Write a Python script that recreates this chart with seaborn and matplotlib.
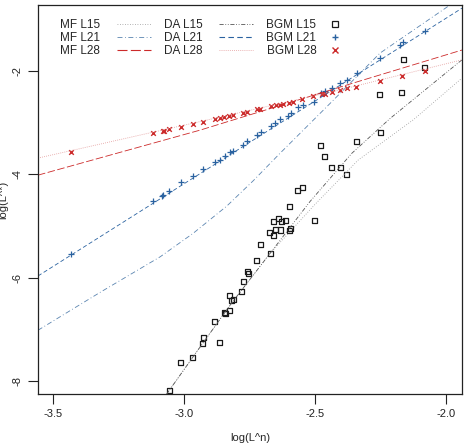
import numpy as np
import pandas as pd
import matplotlib
matplotlib.use("Agg")
import matplotlib.pyplot as plt
from matplotlib.lines import Line2D
from matplotlib.legend_handler import HandlerBase
import seaborn as sns

bgm15_x = [-3.057, -3.015, -2.968, -2.931, -2.927, -2.865, -2.884, -2.847, -2.842, -2.826,
           -2.828, -2.819, -2.813, -2.781, -2.772, -2.760, -2.756, -2.724, -2.670, -2.710,
           -2.673, -2.658, -2.651, -2.641, -2.658, -2.632, -2.628, -2.612, -2.599, -2.593,
           -2.597, -2.569, -2.547, -2.504, -2.480, -2.463, -2.437, -2.402, -2.379, -2.343,
           -2.251, -2.253, -2.172, -2.164, -2.084]
bgm15_y = [-8.190, -7.640, -7.544, -7.273, -7.157, -7.261, -6.847, -6.681, -6.687, -6.634,
           -6.352, -6.449, -6.422, -6.265, -6.074, -5.884, -5.926, -5.667, -5.532, -5.366,
           -5.126, -5.178, -5.062, -4.868, -4.921, -5.081, -4.907, -4.901, -5.087, -5.048,
           -4.623, -4.321, -4.263, -4.901, -3.437, -3.654, -3.868, -3.868, -4.004, -3.364,
           -3.191, -2.451, -2.416, -1.780, -1.942]

bgm21_x = [-3.432, -3.118, -3.086, -3.080, -3.057, -3.014, -2.968, -2.930, -2.883, -2.864,
           -2.845, -2.826, -2.815, -2.777, -2.760, -2.721, -2.708, -2.670, -2.654, -2.635,
           -2.603, -2.594, -2.565, -2.546, -2.505, -2.479, -2.463, -2.437, -2.405, -2.380,
           -2.342, -2.252, -2.177, -2.164, -2.081]
bgm21_y = [-5.545, -4.515, -4.424, -4.404, -4.321, -4.153, -4.037, -3.907, -3.760, -3.727,
           -3.644, -3.567, -3.547, -3.437, -3.354, -3.238, -3.191, -3.075, -3.006, -2.940,
           -2.870, -2.824, -2.708, -2.663, -2.600, -2.426, -2.387, -2.340, -2.244, -2.186,
           -2.039, -1.745, -1.503, -1.451, -1.232]

bgm28_x = [-3.432, -3.118, -3.082, -3.077, -3.057, -3.014, -2.968, -2.930, -2.883, -2.864,
           -2.849, -2.828, -2.815, -2.777, -2.760, -2.721, -2.711, -2.670, -2.650, -2.635,
           -2.624, -2.599, -2.584, -2.552, -2.509, -2.476, -2.463, -2.437, -2.406, -2.380,
           -2.343, -2.253, -2.170, -2.083]
bgm28_y = [-3.567, -3.199, -3.161, -3.161, -3.128, -3.083, -3.031, -2.992, -2.934, -2.909,
           -2.890, -2.870, -2.857, -2.812, -2.793, -2.747, -2.735, -2.689, -2.669, -2.658,
           -2.644, -2.619, -2.600, -2.553, -2.489, -2.451, -2.451, -2.406, -2.373, -2.340,
           -2.306, -2.193, -2.103, -2.000]

# --- model curves ---
mf15_x = [-3.067, -2.966, -2.820, -2.672, -2.500, -2.336, -2.126, -1.941]
mf15_y = [-8.253, -7.532, -6.500, -5.530, -4.580, -3.727, -2.950, -2.147]
da15_x = [-3.067, -2.966, -2.820, -2.672, -2.520, -2.361, -2.214, -1.941]
da15_y = [-8.253, -7.532, -6.500, -5.530, -4.530, -3.600, -2.922, -1.793]

mf21_x = [-3.558, -3.322, -3.092, -2.966, -2.838, -2.737, -2.635, -2.431, -2.253, -1.986]
mf21_y = [-7.020, -6.290, -5.600, -5.145, -4.620, -4.130, -3.600, -2.570, -1.660, -0.730]
da21_x = [-3.558, -2.505, -1.940]
da21_y = [-5.970, -2.600, -0.790]

mf28_x = [-3.558, -2.940, -2.356, -1.940]
mf28_y = [-4.020, -3.150, -2.240, -1.600]
da28_x = [-3.558, -2.437, -1.940]
da28_y = [-3.690, -2.410, -1.790]

BLACK = "#1a1a1a"
GREY = "#9a9a9a"
BLUE = "#2a62a0"
BLUE2 = "#5a84b0"
RED = "#cc2a2a"
PINK = "#e49a9a"


class MarkerLeft(HandlerBase):
    # marker sits near the left of the handle box, like the R key
    def create_artists(self, legend, orig_handle, xdescent, ydescent,
                       width, height, fontsize, trans):
        ln = Line2D([-xdescent + 0.15 * fontsize], [height / 2 - ydescent])
        self.update_prop(ln, orig_handle, legend)
        ln.set_transform(trans)
        return [ln]


sns.set_style("ticks")
plt.rcParams["font.family"] = ["Liberation Sans", "DejaVu Sans"]
plt.rcParams["font.size"] = 8

fig = plt.figure(figsize=(4.68, 4.46), dpi=100)
ax = fig.add_axes([38 / 468, 1 - 394 / 446, 424 / 468, 389 / 446])

styles = {
    "MF L15": (mf15_x, mf15_y, GREY, (0, (1, 2))),
    "MF L21": (mf21_x, mf21_y, BLUE2, (0, (6, 3, 1, 3))),
    "MF L28": (mf28_x, mf28_y, RED, (0, (9, 3))),
    "DA L15": (da15_x, da15_y, "#555555", (0, (5, 2, 1, 2, 1, 2))),
    "DA L21": (da21_x, da21_y, BLUE, (0, (5, 3))),
    "DA L28": (da28_x, da28_y, PINK, (0, (1, 1.5))),
}
for name, (xs, ys, col, ls) in styles.items():
    df = pd.DataFrame({"x": xs, "y": ys})
    sns.lineplot(data=df, x="x", y="y", ax=ax, color=col, linestyle=ls,
                 linewidth=0.6, sort=False, estimator=None)

sns.scatterplot(x=bgm15_x, y=bgm15_y, ax=ax, marker="s", s=13,
                facecolor="none", edgecolor=BLACK, linewidth=0.9)
sns.scatterplot(x=bgm21_x, y=bgm21_y, ax=ax, marker="+", s=16,
                color=BLUE, linewidth=0.9)
sns.scatterplot(x=bgm28_x, y=bgm28_y, ax=ax, marker="x", s=11,
                color=RED, linewidth=1.0)

ax.set_xlim(-3.558, -1.940)
ax.set_ylim(-8.253, -0.729)
ax.set_xticks([-3.5, -3.0, -2.5, -2.0])
ax.set_xticklabels(["-3.5", "-3.0", "-2.5", "-2.0"])
ax.set_yticks([-8, -6, -4, -2])
ax.set_yticklabels(["-8", "-6", "-4", "-2"], rotation=90, va="center")
ax.tick_params(direction="out", length=7, width=0.8, colors="#222222",
               labelsize=8, pad=4)
for sp in ax.spines.values():
    sp.set_linewidth(0.9)
    sp.set_color("#222222")
ax.set_xlabel("log(L^n)", fontsize=8, labelpad=10)
ax.set_ylabel("log(L^*)", fontsize=8, labelpad=3)

handles = [
    Line2D([], [], color=GREY, linestyle=(0, (1, 2)), linewidth=0.6),
    Line2D([], [], color=BLUE2, linestyle=(0, (6, 3, 1, 3)), linewidth=0.6),
    Line2D([], [], color=RED, linestyle=(0, (9, 3)), linewidth=0.8),
    Line2D([], [], color="#555555", linestyle=(0, (5, 2, 1, 2, 1, 2)), linewidth=0.6),
    Line2D([], [], color=BLUE, linestyle=(0, (5, 3)), linewidth=0.8),
    Line2D([], [], color=PINK, linestyle=(0, (1, 1.5)), linewidth=0.6),
    Line2D([], [], color=BLACK, marker="s", linestyle="none", markerfacecolor="none",
           markersize=4.5, markeredgewidth=0.9),
    Line2D([], [], color=BLUE, marker="+", linestyle="none", markersize=5),
    Line2D([], [], color=RED, marker="x", linestyle="none", markersize=4.5),
]
labels = ["MF L15", "MF L21", "MF L28", "DA L15", "DA L21", "DA L28",
          "BGM L15", "BGM L21", "BGM L28"]
hmap = {h: MarkerLeft() for h in handles[6:]}
ax.legend(handles, labels, ncol=3, loc="upper left", bbox_to_anchor=(22 / 424, 1 - 14 / 389),
          frameon=False, markerfirst=False, handlelength=2.9, handletextpad=1.4,
          columnspacing=1.1, labelspacing=0.08, borderpad=0, borderaxespad=0,
          fontsize=8.5, handler_map=hmap)

fig.savefig("out.png", dpi=100)
